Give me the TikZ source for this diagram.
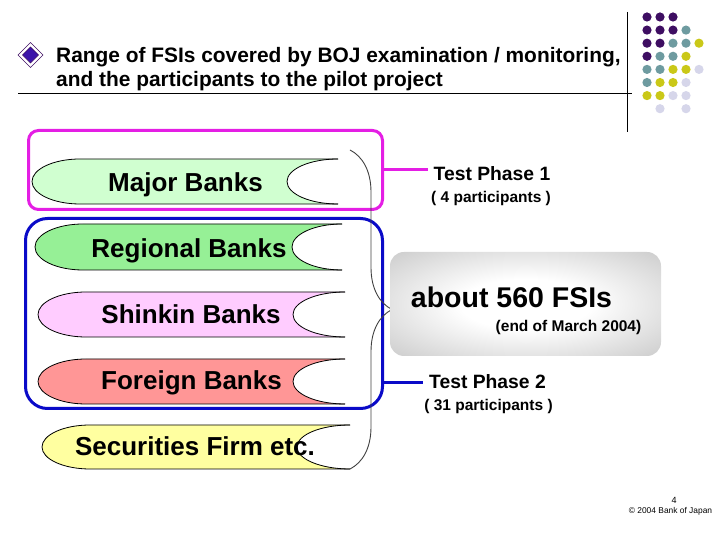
\documentclass[tikz,border=0pt]{standalone}
\usepackage{fontspec}
\setmainfont{Liberation Sans}
\usetikzlibrary{decorations.pathreplacing}

\definecolor{dotpurple}{RGB}{62,14,98}
\definecolor{dotteal}{RGB}{110,155,160}
\definecolor{dotyellow}{RGB}{202,200,24}
\definecolor{dotlilac}{RGB}{214,214,234}
\definecolor{diamondblue}{RGB}{60,20,170}
\definecolor{majorgreen}{RGB}{208,255,208}
\definecolor{regionalgreen}{RGB}{150,240,150}
\definecolor{shinkinpink}{RGB}{255,204,255}
\definecolor{foreignred}{RGB}{255,150,150}
\definecolor{securityellow}{RGB}{255,255,160}
\definecolor{phasepink}{RGB}{228,30,228}
\definecolor{phaseblue}{RGB}{10,10,200}

\pgfdeclareradialshading{fsisglow}{\pgfpoint{0bp}{0bp}}{color(0bp)=(white); color(12bp)=(white); color(50bp)=(black!32); color(72bp)=(black!32)}

\tikzset{
  bannerline/.style={draw=black, line width=0.8pt},
  bankname/.style={font=\bfseries\fontsize{26}{30}\selectfont, anchor=base, inner sep=0pt},
  phasebox/.style={draw, line width=3pt, rounded corners=#1},
  phasename/.style={font=\bfseries\fontsize{19.3}{22}\selectfont, anchor=base, inner sep=6pt},
  phasecount/.style={font=\bfseries\fontsize{15.5}{18}\selectfont, anchor=base, inner sep=0pt},
}

\begin{document}
\begin{tikzpicture}[x=1pt, y=1pt]
  \useasboundingbox (0,0) rectangle (720,540);
  % header
  \draw[dotpurple, fill=white] (30.5,497.5) -- (43,485) -- (30.5,472.5) -- (18,485) -- cycle;
  \draw[dotpurple, fill=diamondblue] (30.5,493) -- (38.5,485) -- (30.5,477) -- (22.5,485) -- cycle;
  \node[font=\bfseries\fontsize{20.9}{25}\selectfont, anchor=base west, inner sep=0pt] (title1) at (56,477) {Range of FSIs covered by BOJ examination / monitoring,};
  \node[font=\bfseries\fontsize{20.9}{25}\selectfont, anchor=base west, inner sep=0pt] (title2) at (56,453) {and the participants to the pilot project};
  \draw[line width=0.8pt] (18,446.5) -- (632,446.5);
  \draw[line width=0.8pt] (627,528) -- (627,408);
  \foreach \c/\r/\col in {0/0/dotpurple, 1/0/dotpurple, 2/0/dotpurple,
      0/1/dotpurple, 1/1/dotpurple, 2/1/dotpurple, 3/1/dotteal,
      0/2/dotpurple, 1/2/dotpurple, 2/2/dotteal, 3/2/dotteal, 4/2/dotyellow,
      0/3/dotpurple, 1/3/dotteal, 2/3/dotteal, 3/3/dotyellow,
      0/4/dotteal, 1/4/dotteal, 2/4/dotyellow, 3/4/dotyellow, 4/4/dotlilac,
      0/5/dotteal, 1/5/dotyellow, 2/5/dotyellow, 3/5/dotlilac,
      0/6/dotyellow, 1/6/dotyellow, 2/6/dotlilac, 3/6/dotlilac,
      1/7/dotlilac, 3/7/dotlilac}
    \fill[\col] (647+13*\c, 523-13.1*\r) circle (4.6);

  % banners
  \fill[majorgreen] (80,381) -- (338,381) arc[start angle=90, end angle=270, x radius=51, y radius=22.5] -- (80,336) arc[start angle=270, end angle=90, x radius=48, y radius=22.5] -- cycle;
  \draw[bannerline] (338,381) -- (80,381) arc[start angle=90, end angle=270, x radius=48, y radius=22.5] -- (338,336);
  \draw[bannerline] (338,381) arc[start angle=90, end angle=270, x radius=51, y radius=22.5];
  \node[bankname] (major) at (185.5,348) {Major Banks};

  \fill[regionalgreen] (83,316) -- (342,316) arc[start angle=90, end angle=270, x radius=50, y radius=23] -- (83,270) arc[start angle=270, end angle=90, x radius=48, y radius=23] -- cycle;
  \draw[bannerline] (342,316) -- (83,316) arc[start angle=90, end angle=270, x radius=48, y radius=23] -- (342,270);
  \draw[bannerline] (342,316) arc[start angle=90, end angle=270, x radius=50, y radius=23];
  \node[bankname] (regional) at (189,282) {Regional Banks};

  \fill[shinkinpink] (86,248) -- (345,248) arc[start angle=90, end angle=270, x radius=52, y radius=22.5] -- (86,203) arc[start angle=270, end angle=90, x radius=48, y radius=22.5] -- cycle;
  \draw[bannerline] (345,248) -- (86,248) arc[start angle=90, end angle=270, x radius=48, y radius=22.5] -- (345,203);
  \draw[bannerline] (345,248) arc[start angle=90, end angle=270, x radius=52, y radius=22.5];
  \node[bankname] (shinkin) at (191,216.5) {Shinkin Banks};

  \fill[foreignred] (86,181) -- (345,181) arc[start angle=90, end angle=270, x radius=52, y radius=22.5] -- (86,136) arc[start angle=270, end angle=90, x radius=48, y radius=22.5] -- cycle;
  \draw[bannerline] (345,181) -- (86,181) arc[start angle=90, end angle=270, x radius=48, y radius=22.5] -- (345,136);
  \draw[bannerline] (345,181) arc[start angle=90, end angle=270, x radius=52, y radius=22.5];
  \node[bankname] (foreign) at (191.5,150) {Foreign Banks};

  \fill[securityellow] (90,115) -- (350,115) arc[start angle=90, end angle=270, x radius=53, y radius=22] -- (90,71) arc[start angle=270, end angle=90, x radius=48, y radius=22] -- cycle;
  \draw[bannerline] (350,115) -- (90,115) arc[start angle=90, end angle=270, x radius=48, y radius=22] -- (350,71);
  \draw[bannerline] (350,115) arc[start angle=90, end angle=270, x radius=53, y radius=22];
  \node[bankname] (securities) at (195,84.5) {Securities Firm etc.};

  % phases
  \node[phasebox=10pt, draw=phasepink, minimum width=354pt, minimum height=79pt] (phaseone) at (205.5,370) {};
  \node[phasebox=22pt, draw=phaseblue, minimum width=357pt, minimum height=190pt] (phasetwo) at (204,226.5) {};
  \node[phasename] (testone) at (492,359) {Test Phase 1};
  \node[phasecount] (countone) at (491,337) {( 4 participants )};
  \node[phasename] (testtwo) at (487.5,151) {Test Phase 2};
  \node[phasecount] (counttwo) at (488.5,129) {( 31 participants )};
  \draw[phasepink, line width=3pt] (phaseone.east) -- (phaseone.east -| testone.west);
  \draw[phaseblue, line width=3pt] (testtwo.west -| phasetwo.east) -- (testtwo.west);

  % brace and total
  \draw[decorate, decoration={brace, amplitude=42pt}, draw=black!75, line width=0.9pt] (350,390) -- (350,71);
  \node[shade, shading=fsisglow, rounded corners=14pt, minimum width=271pt, minimum height=104pt] (fsis) at (525.5,236) {};
  \node[font=\bfseries\fontsize{28.5}{32}\selectfont, anchor=base, inner sep=0pt] (fsistotal) at (511.5,232) {about 560 FSIs};
  \node[font=\bfseries\fontsize{15.5}{18}\selectfont, anchor=base, inner sep=0pt] (fsisdate) at (568.5,208) {(end of March 2004)};

  % footer
  \node[font=\fontsize{9}{11}\selectfont, anchor=base, inner sep=0pt] (pageno) at (674,36) {4};
  \node[font=\fontsize{8.4}{10}\selectfont, anchor=base, inner sep=0pt] (copyright) at (670.5,26) {© 2004 Bank of Japan};
\end{tikzpicture}
\end{document}
